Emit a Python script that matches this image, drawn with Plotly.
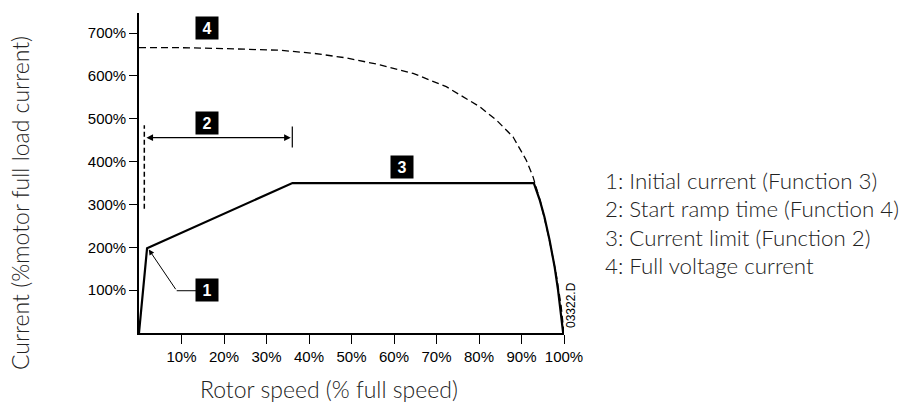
import plotly.graph_objects as go

# ---- data ----
x_ticks = [10, 20, 30, 40, 50, 60, 70, 80, 90, 100]
x_tick_labels = ["10%", "20%", "30%", "40%", "50%", "60%", "70%", "80%", "90%", "100%"]
y_ticks = [100, 200, 300, 400, 500, 600, 700]
y_tick_labels = ["100%", "200%", "300%", "400%", "500%", "600%", "700%"]

# full voltage current (dashed)
fv_speed = [0, 10, 20, 33.2, 41, 48.9, 56.7, 64.5, 72.3, 80.2, 84.1, 88, 91.1, 92.7,
            94.5, 96.4, 98.2, 99.3, 100]
fv_current = [666, 666, 664, 660, 653, 642, 626, 606, 575, 528, 497, 458, 404, 365,
              305, 225, 135, 65, 0]

# soft start current profile (solid)
ss_speed = [0, 1.9, 36.1, 92.9, 94.3, 95.4, 96.6, 97.8, 98.6, 99.2, 99.8]
ss_current = [0, 198, 350, 350, 310, 271, 217, 154, 100, 45, 0]

legend_lines = ["1: Initial current (Function 3)",
                "2: Start ramp time (Function 4)",
                "3: Current limit (Function 2)",
                "4: Full voltage current"]
marker_labels = ["1", "2", "3", "4"]

# ---- figure ----
fig = go.Figure()
fig.add_trace(go.Scatter(x=fv_speed, y=fv_current, mode="lines",
                         line=dict(color="black", width=1.3, dash="7px,4px"),
                         hoverinfo="skip"))
fig.add_trace(go.Scatter(x=ss_speed, y=ss_current, mode="lines",
                         line=dict(color="black", width=2.2),
                         hoverinfo="skip"))

title_font = dict(family="Lato", size=23, color="#222222", weight=300)
legend_font = dict(family="Lato", size=22.3, color="#222222", weight=300)

# vertical dashed marker at start of ramp
fig.add_shape(type="line", x0=1.25, x1=1.25, y0=290, y1=485,
              line=dict(color="black", width=1.5, dash="5px,3px"))
# right end tick of ramp-time arrow
fig.add_shape(type="line", x0=36.07, x1=36.07, y0=433, y1=482,
              line=dict(color="black", width=1.2))
# double-headed ramp-time arrow
fig.add_annotation(x=35.7, y=456, ax=1.4, ay=456, axref="x", ayref="y",
                   xref="x", yref="y", text="", showarrow=True,
                   arrowhead=2, startarrowhead=2, arrowside="end+start",
                   arrowsize=1.1, startarrowsize=1.1, arrowwidth=1.2, arrowcolor="black",
                   standoff=0, startstandoff=0)
# leader for label 1
fig.add_shape(type="line", x0=8.87, x1=13.5, y0=98.7, y1=98.7,
              line=dict(color="black", width=1))
fig.add_annotation(x=2.3, y=195, ax=8.87, ay=98.7, axref="x", ayref="y",
                   xref="x", yref="y", text="", showarrow=True,
                   arrowhead=2, arrowsize=1.1, arrowwidth=1, arrowcolor="black",
                   standoff=0)

# numbered black boxes
box_pos = {"1": (16.0, 101), "2": (16.0, 489.5), "3": (61.9, 387.5), "4": (16.0, 712.7)}
for lab in marker_labels:
    bx, by = box_pos[lab]
    fig.add_annotation(x=bx, y=by, xref="x", yref="y", text="<b>%s</b>" % lab,
                       showarrow=False, bgcolor="black", width=22, height=22,
                       borderpad=0, align="center", valign="middle",
                       font=dict(family="Liberation Sans", size=16, color="white"))

# legend text on the right
for i, line in enumerate(legend_lines):
    fig.add_annotation(x=603, y=405 - (180 + 28.5 * i), xref="paper", yref="paper",
                       text=line, showarrow=False, xanchor="left", yanchor="middle",
                       font=legend_font)

# drawing number
fig.add_annotation(x=571, y=405 - 305, xref="paper", yref="paper", text="03322.D",
                   textangle=-90, showarrow=False, xanchor="center", yanchor="middle",
                   font=dict(family="Liberation Sans", size=12, color="black"))

# axis titles
fig.add_annotation(x=328.5, y=405 - 389, xref="paper", yref="paper",
                   text="Rotor speed (% full speed)", showarrow=False,
                   xanchor="center", yanchor="middle", font=title_font)
fig.add_annotation(x=20, y=405 - 203, xref="paper", yref="paper",
                   text="Current (%motor full load current)", showarrow=False, textangle=-90,
                   xanchor="center", yanchor="middle", font=title_font)

W, H = 913, 405
L, R, T, B = 139, 349, 13, 72
# convert pixel positions into paper fractions
for ann in fig.layout.annotations:
    if ann.xref == "paper":
        ann.x = (ann.x - L) / (W - L - R)
        ann.y = (ann.y - B) / (H - T - B)

fig.update_layout(
    width=W, height=H, margin=dict(l=L, r=R, t=T, b=B, pad=0),
    paper_bgcolor="white", plot_bgcolor="white", showlegend=False,
    xaxis=dict(range=[0, 100], tickvals=x_ticks, ticktext=x_tick_labels,
               showline=True, linecolor="black", linewidth=1.6, showgrid=False,
               zeroline=False, ticks="outside", ticklen=9, tickwidth=1.3, tickcolor="black",
               tickfont=dict(family="Liberation Sans", size=15, color="black"),
               fixedrange=True),
    yaxis=dict(range=[0, 747], tickvals=y_ticks, ticktext=y_tick_labels,
               showline=True, linecolor="black", linewidth=1.6, showgrid=False,
               zeroline=False, ticks="outside", ticklen=8, tickwidth=1.3, tickcolor="black",
               tickfont=dict(family="Liberation Sans", size=15, color="black"),
               fixedrange=True),
)

fig.write_html("out.html", config={"displayModeBar": False},
               post_script="document.body.style.margin='0';document.body.style.overflow='hidden';")
